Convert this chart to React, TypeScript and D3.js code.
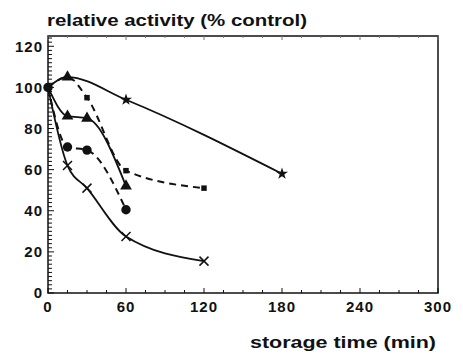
import * as d3 from "d3"

const W = 463
const H = 356
const MARGIN = { top: 36, right: 25, bottom: 63, left: 48 }

// storage time (min) and relative activity (% control)
const starTime = [0, 15, 60, 180]
const starActivity = [100, 105, 94, 58]

const squareTime = [0, 15, 30, 60, 120]
const squareActivity = [100, 105, 95, 59.5, 51]

const triangleTime = [0, 15, 30, 60]
const triangleActivity = [100, 86, 85, 52]

const circleTime = [0, 15, 30, 60]
const circleActivity = [100, 71, 69.5, 40.5]

const crossTime = [0, 15, 30, 60, 120]
const crossActivity = [100, 62, 51, 27.5, 15.5]

// triangle sitting on top of the early peak (covers the star/square there)
const peakTime = [15]
const peakActivity = [105]

const xTicks = [0, 60, 120, 180, 240, 300]
const yTicks = [0, 20, 40, 60, 80, 100, 120]

type Marker = "star" | "square" | "triangle" | "circle" | "cross"

interface Series {
  time: number[]
  activity: number[]
  dashed: boolean
  marker: Marker
}

const series: Series[] = [
  { time: starTime, activity: starActivity, dashed: false, marker: "star" },
  { time: squareTime, activity: squareActivity, dashed: true, marker: "square" },
  { time: triangleTime, activity: triangleActivity, dashed: false, marker: "triangle" },
  { time: circleTime, activity: circleActivity, dashed: true, marker: "circle" },
  { time: crossTime, activity: crossActivity, dashed: false, marker: "cross" },
]

const FONT = "'Liberation Sans', Arial, Helvetica, sans-serif"
const INK = "#111"

function MarkerShape({ kind, x, y }: { kind: Marker; x: number; y: number }) {
  if (kind === "cross") {
    const r = 4.5
    return (
      <path
        d={`M${x - r},${y - r}L${x + r},${y + r}M${x - r},${y + r}L${x + r},${y - r}`}
        stroke={INK}
        strokeWidth={1.5}
        fill="none"
      />
    )
  }
  const sym = {
    star: d3.symbol(d3.symbolStar, 45),
    square: d3.symbol(d3.symbolSquare, 30),
    triangle: d3.symbol(d3.symbolTriangle, 60),
    circle: d3.symbol(d3.symbolCircle, 70),
  }[kind]
  return <path d={sym() ?? ""} transform={`translate(${x},${y})`} fill={INK} />
}

export default function App() {
  const innerW = W - MARGIN.left - MARGIN.right
  const innerH = H - MARGIN.top - MARGIN.bottom

  const x = d3.scaleLinear().domain([0, 300]).range([0, innerW])
  const y = d3.scaleLinear().domain([0, 125]).range([innerH, 0])

  const minorX = d3.range(0, 301, 15)
  const minorY = d3.range(0, 125, 2)

  // a marker under the peak triangle or the start blob is not drawn
  const hidden = (t: number, v: number) =>
    peakTime.some((p, k) => p === t && peakActivity[k] === v)

  return (
    <svg
      width={W}
      height={H}
      style={{ position: "absolute", left: 0, top: 0, background: "#fff" }}
    >
      <rect width={W} height={H} fill="#fff" />
      <g transform={`translate(${MARGIN.left},${MARGIN.top})`}>
        {/* ── Frame ──────────────────────────────────────────────────── */}
        <rect
          x={0}
          y={0}
          width={innerW}
          height={innerH}
          fill="none"
          stroke={INK}
          strokeWidth={1.5}
        />

        {/* ── Ticks (inward) ─────────────────────────────────────────── */}
        {minorX.map((t) => {
          const major = t % 60 === 0
          return (
            <g key={`tx${t}`}>
              <line
                x1={x(t)} x2={x(t)}
                y1={innerH} y2={innerH - (major ? 5 : 3)}
                stroke={INK} strokeWidth={1}
              />
              <line
                x1={x(t)} x2={x(t)}
                y1={0} y2={major ? 4 : 2}
                stroke="#777" strokeWidth={1}
              />
            </g>
          )
        })}
        {minorY.map((t) => {
          const major = t % 20 === 0
          return (
            <line
              key={`ty${t}`}
              x1={0} x2={major ? 6 : 4}
              y1={y(t)} y2={y(t)}
              stroke={INK} strokeWidth={1}
            />
          )
        })}

        {/* ── Tick labels ────────────────────────────────────────────── */}
        {xTicks.map((t) => (
          <text
            key={`lx${t}`}
            x={x(t)}
            y={innerH + 19}
            textAnchor="middle"
            fontFamily={FONT}
            fontWeight={900}
            fontSize={15}
            letterSpacing={1}
            fill={INK}
          >
            {t}
          </text>
        ))}
        {yTicks.map((t) => (
          <text
            key={`ly${t}`}
            x={-5}
            y={y(t)}
            dy="0.36em"
            textAnchor="end"
            fontFamily={FONT}
            fontWeight={900}
            fontSize={15}
            letterSpacing={1}
            fill={INK}
          >
            {t}
          </text>
        ))}

        {/* ── Curves ─────────────────────────────────────────────────── */}
        {series.map((s, i) => {
          const pts = s.time.map((t, j) => [x(t), y(s.activity[j])] as [number, number])
          const path = d3.line().curve(d3.curveMonotoneX)(pts) ?? ""
          return (
            <path
              key={`c${i}`}
              d={path}
              fill="none"
              stroke={INK}
              strokeWidth={s.dashed ? 2 : 1.8}
              strokeDasharray={s.dashed ? "7,5" : undefined}
            />
          )
        })}

        {/* ── Markers ────────────────────────────────────────────────── */}
        {series.map((s, i) =>
          s.time.map((t, j) =>
            t === 0 || hidden(t, s.activity[j]) ? null : (
              <MarkerShape key={`m${i}-${j}`} kind={s.marker} x={x(t)} y={y(s.activity[j])} />
            )
          )
        )}
        {peakTime.map((t, j) => (
          <MarkerShape key={`p${j}`} kind="triangle" x={x(t)} y={y(peakActivity[j])} />
        ))}
        <MarkerShape kind="circle" x={x(0)} y={y(100)} />
      </g>

      {/* ── Axis titles ──────────────────────────────────────────────── */}
      <text
        x={47}
        y={26}
        fontFamily={FONT}
        fontWeight={900}
        fontSize={17}
        textLength={260}
        lengthAdjust="spacingAndGlyphs"
        fill={INK}
      >
        relative activity (% control)
      </text>
      <text
        x={250}
        y={348}
        fontFamily={FONT}
        fontWeight={900}
        fontSize={17}
        textLength={186}
        lengthAdjust="spacingAndGlyphs"
        fill={INK}
      >
        storage time (min)
      </text>
    </svg>
  )
}
